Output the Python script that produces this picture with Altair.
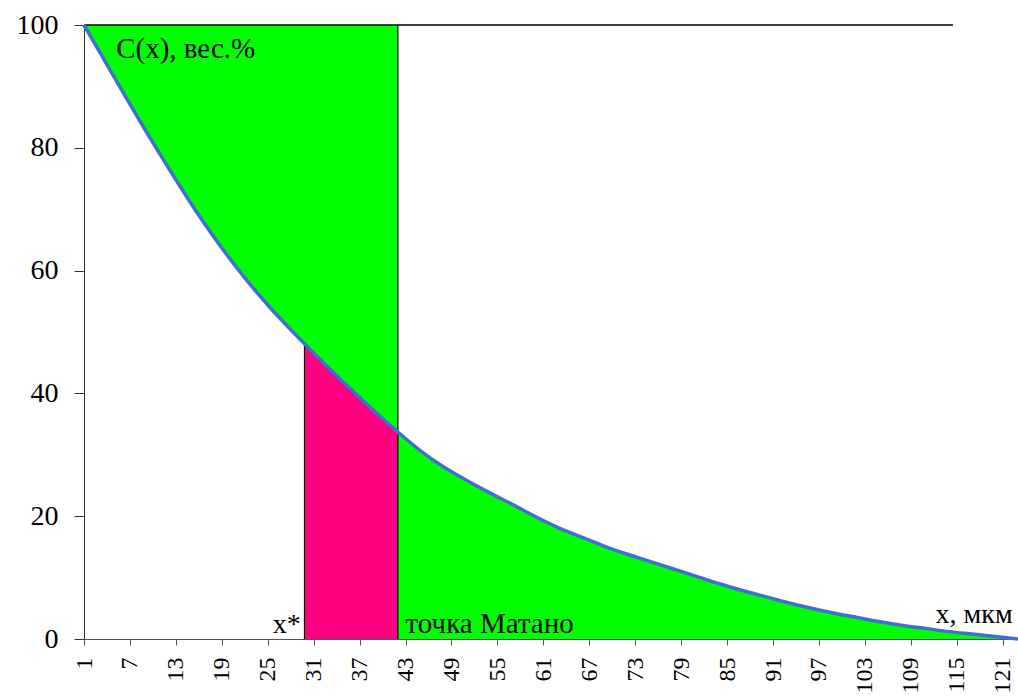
import altair as alt
import pandas as pd

# Concentration profile C(x), wt.% against distance x, um
x_vals = [1, 3, 5, 7, 9, 11, 13, 15, 17, 19, 21, 23, 25, 27, 29, 29.8, 33, 36, 39, 42,
          45, 48, 51, 54, 57, 60, 63, 66, 69, 72, 75, 78, 81, 84, 87, 90, 93, 96, 99,
          102, 105, 108, 111, 114, 117, 120, 123]
c_vals = [100, 95.7, 91.4, 87.1, 82.9, 78.8, 74.8, 70.9, 67.2, 63.7, 60.4, 57.3, 54.4,
          51.7, 49.1, 48.1, 44.1, 40.5, 37.0, 33.7, 30.6, 28.0, 25.8, 23.8, 21.9, 19.9,
          18.1, 16.6, 15.1, 13.8, 12.6, 11.4, 10.2, 9.0, 7.9, 6.9, 5.9, 5.0, 4.2, 3.5,
          2.8, 2.2, 1.7, 1.2, 0.8, 0.4, 0.0]

x_star = 29.8      # x*
c_star = 48.1      # C(x*)
x_matano = 42      # Matano plane
top_end = 114.5    # end of the C = 100 line

x_ticks = list(range(1, 122, 6))
y_ticks = [0, 20, 40, 60, 80, 100]

FONT = "Liberation Serif"

df = pd.DataFrame({"x": x_vals, "c": c_vals})
df["top"] = 100.0
left = df[df["x"] <= x_matano]
right = df[df["x"] >= x_matano]
pink = df[(df["x"] >= x_star) & (df["x"] <= x_matano)]

xs = alt.Scale(domain=[1, 123], nice=False, zero=False)
ys = alt.Scale(domain=[0, 100], nice=False)

X = alt.X("x:Q", scale=xs, title=None,
          axis=alt.Axis(values=x_ticks, labelAngle=270, labelFont=FONT, labelFontSize=24,
                        labelColor="black", domainColor="#555", tickColor="#555",
                        tickSize=6, labelPadding=12, grid=False, labelFlush=False,
                        labelOverlap=False))
Y = alt.Y("c:Q", scale=ys, title=None,
          axis=alt.Axis(values=y_ticks, labelFont=FONT, labelFontSize=28, labelColor="black",
                        domainColor="#333", tickColor="#333", tickSize=10, labelPadding=16,
                        grid=False))

upper_green = alt.Chart(left).mark_area(color="#00ff00", opacity=1, interpolate="monotone").encode(
    x=X, y=Y, y2="top:Q")
lower_green = alt.Chart(right).mark_area(color="#00ff00", opacity=1, interpolate="monotone").encode(
    x=alt.X("x:Q", scale=xs), y=alt.Y("c:Q", scale=ys), y2=alt.datum(0))
pink_area = alt.Chart(pink).mark_area(color="#ff0080", opacity=1, interpolate="monotone").encode(
    x=alt.X("x:Q", scale=xs), y=alt.Y("c:Q", scale=ys), y2=alt.datum(0))

lines_df = pd.DataFrame({
    "x": [x_star, x_matano],
    "y0": [0, 0],
    "y1": [c_star, 100],
})
vlines = alt.Chart(lines_df).mark_rule(color="black", strokeWidth=1.2).encode(
    x=alt.X("x:Q", scale=xs), y=alt.Y("y0:Q", scale=ys), y2="y1:Q")

top_df = pd.DataFrame({"x0": [1], "x1": [top_end], "y": [100]})
top_line = alt.Chart(top_df).mark_rule(color="black", strokeWidth=1.5).encode(
    x=alt.X("x0:Q", scale=xs), x2="x1:Q", y=alt.Y("y:Q", scale=ys))

curve = alt.Chart(df).mark_line(color="#3f6fd4", strokeWidth=3.5, interpolate="monotone").encode(
    x=alt.X("x:Q", scale=xs), y=alt.Y("c:Q", scale=ys))

labels_df = pd.DataFrame({
    "x": [5.2, 29.3, 43.0, 122.3],
    "y": [94.6, 1.0, 1.0, 2.6],
    "text": ["C(x), вес.%", "x*", "точка Матано", "x, мкм"],
    "side": ["left", "right", "left", "right"],
})
label_left = alt.Chart(labels_df[labels_df["side"] == "left"]).mark_text(
    font=FONT, fontSize=29, align="left", baseline="alphabetic", color="black").encode(
    x=alt.X("x:Q", scale=xs), y=alt.Y("y:Q", scale=ys), text="text:N")
label_right = alt.Chart(labels_df[labels_df["side"] == "right"]).mark_text(
    font=FONT, fontSize=28, align="right", baseline="alphabetic", color="black").encode(
    x=alt.X("x:Q", scale=xs), y=alt.Y("y:Q", scale=ys), text="text:N")

chart = alt.layer(
    upper_green, lower_green, pink_area, top_line, vlines, curve, label_left, label_right
).properties(
    width=934, height=614,
    autosize=alt.AutoSizeParams(type="none"),
    padding={"left": 84, "top": 25, "right": 0, "bottom": 58},
    background="white",
).configure_view(stroke=None)

chart.save("out.html", embed_options={"renderer": "svg", "actions": False})
